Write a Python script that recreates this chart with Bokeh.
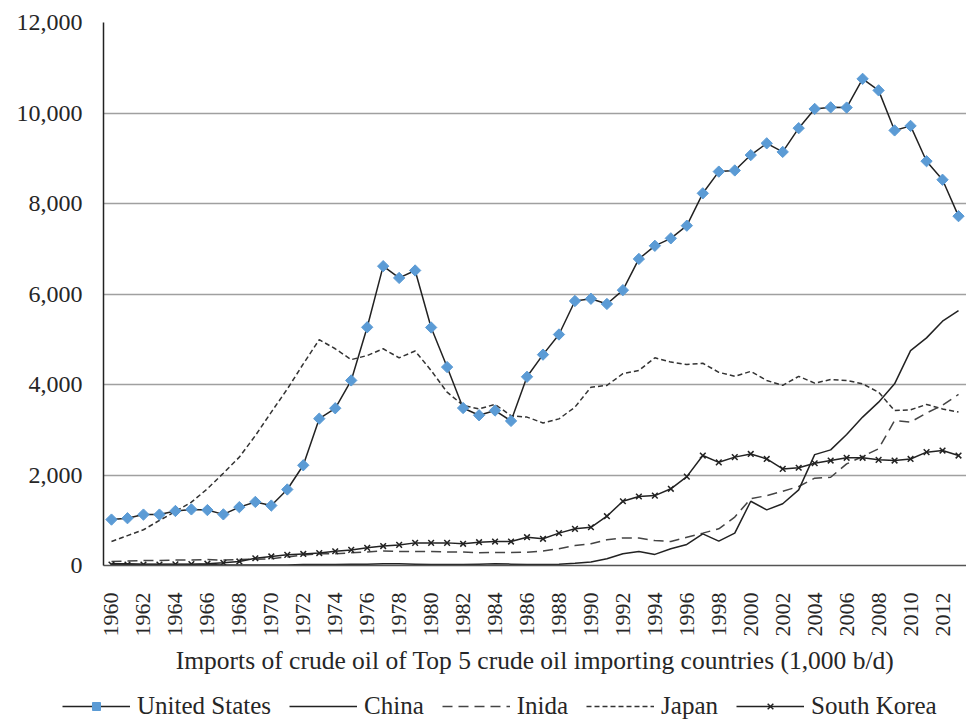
import math
from bokeh.plotting import figure
from bokeh.models import (Legend, LegendItem, NumeralTickFormatter, FixedTicker)
from bokeh.embed import file_html
from bokeh.resources import INLINE

years = list(range(1960, 2014))
year_ticks = list(range(1960, 2013, 2))
y_ticks = [0, 2000, 4000, 6000, 8000, 10000, 12000]

united_states = [1015, 1045, 1125, 1125, 1205, 1240, 1225, 1130, 1290, 1405,
                 1325, 1680, 2215, 3245, 3475, 4090, 5265, 6615, 6355, 6520,
                 5260, 4385, 3480, 3320, 3425, 3195, 4170, 4660, 5105, 5845,
                 5895, 5780, 6085, 6775, 7065, 7230, 7510, 8225, 8705, 8730,
                 9070, 9330, 9140, 9665, 10090, 10125, 10120, 10755, 10500, 9615,
                 9715, 8935, 8525, 7720]

china = [40, 40, 30, 30, 20, 20, 20, 10, 10, 10,
         10, 10, 20, 20, 20, 30, 30, 40, 40, 30,
         20, 20, 20, 30, 40, 30, 20, 20, 30, 50,
         75, 150, 260, 310, 245, 370, 465, 700, 540, 715,
         1420, 1230, 1365, 1670, 2450, 2555, 2895, 3280, 3610, 4015,
         4750, 5030, 5400, 5635]

india = [90, 100, 110, 110, 120, 120, 130, 120, 130, 140,
         150, 190, 230, 260, 260, 280, 300, 320, 310, 310,
         310, 300, 300, 280, 290, 290, 295, 320, 370, 440,
         480, 570, 610, 610, 550, 530, 625, 715, 810, 1070,
         1475, 1545, 1640, 1745, 1930, 1950, 2245, 2410, 2580, 3205,
         3170, 3370, 3540, 3780]

japan = [530, 660, 790, 995, 1195, 1400, 1695, 2040, 2395, 2870,
         3390, 3900, 4455, 4990, 4790, 4550, 4640, 4790, 4590, 4740,
         4310, 3830, 3540, 3460, 3560, 3310, 3280, 3150, 3240, 3500,
         3940, 3980, 4240, 4310, 4590, 4495, 4440, 4470, 4270, 4180,
         4290, 4090, 3980, 4180, 4030, 4110, 4090, 4015, 3830, 3425,
         3440, 3560, 3460, 3390]

south_korea = [20, 20, 20, 20, 25, 30, 40, 60, 90, 160,
               200, 235, 255, 275, 315, 345, 390, 430, 455, 500,
               500, 500, 480, 515, 530, 530, 625, 590, 715, 810,
               845, 1090, 1420, 1525, 1545, 1695, 1965, 2430, 2280, 2395,
               2465, 2355, 2135, 2160, 2260, 2320, 2380, 2380, 2335, 2320,
               2355, 2505, 2540, 2430]

labels = ["United States", "China", "Inida", "Japan", "South Korea"]
x_title = "Imports of crude oil of Top 5 crude oil importing countries (1,000 b/d)"

FONT = "Liberation Serif"
TXT = "#262626"
US_BLUE = "#5B9BD5"


def draw_series(fig):
    r_jp = fig.line(years, japan, line_color="#333333", line_width=1.5, line_dash="5 3")
    r_in = fig.line(years, india, line_color="#444444", line_width=1.5, line_dash="10 6")
    r_cn = fig.line(years, china, line_color="#222222", line_width=1.5)
    r_kr = fig.line(years, south_korea, line_color="#222222", line_width=1.5)
    r_kr_m = fig.scatter(years, south_korea, marker="x", size=8,
                         line_color="#222222", line_width=1.5)
    r_us = fig.line(years, united_states, line_color="#222222", line_width=1.5)
    r_us_m = fig.scatter(years, united_states, marker="square", size=8,
                         angle=math.pi / 4, fill_color=US_BLUE, line_color=US_BLUE)
    return [[r_us, r_us_m], [r_cn], [r_in], [r_jp], [r_kr, r_kr_m]]


# ---------------- main chart ----------------
p = figure(width=966, height=688, output_backend="svg", toolbar_location=None,
           x_range=(1959.5, 2013.5), y_range=(0, 12000),
           min_border_left=103, min_border_right=0, min_border_top=22,
           min_border_bottom=123, outline_line_color=None)

p.xgrid.grid_line_color = None
p.ygrid.grid_line_color = "#a0a0a0"
p.ygrid.grid_line_width = 1.5
p.ygrid.ticker = FixedTicker(ticks=y_ticks)

p.yaxis.ticker = FixedTicker(ticks=y_ticks)
p.yaxis.formatter = NumeralTickFormatter(format="0,0")
p.yaxis.axis_line_color = "#222222"
p.yaxis.axis_line_width = 1.5
p.yaxis.major_tick_line_color = None
p.yaxis.minor_tick_line_color = None
p.yaxis.major_tick_out = 0
p.yaxis.major_tick_in = 0
p.yaxis.minor_tick_out = 0
p.yaxis.major_label_standoff = 21
p.yaxis.major_label_text_font = FONT
p.yaxis.major_label_text_font_size = "24px"
p.yaxis.major_label_text_color = TXT

p.xaxis.ticker = FixedTicker(ticks=year_ticks)
p.xaxis.axis_line_color = "#555555"
p.xaxis.axis_line_width = 1.5
p.xaxis.major_tick_line_color = None
p.xaxis.minor_tick_line_color = None
p.xaxis.major_tick_out = 0
p.xaxis.major_tick_in = 0
p.xaxis.minor_tick_out = 0
p.xaxis.major_label_orientation = math.pi / 2
p.xaxis.major_label_standoff = 27
p.xaxis.major_label_text_font = FONT
p.xaxis.major_label_text_font_size = "22px"
p.xaxis.major_label_text_color = TXT
p.xaxis.axis_label = x_title
p.xaxis.axis_label_text_font = FONT
p.xaxis.axis_label_text_font_style = "normal"
p.xaxis.axis_label_text_font_size = "25.5px"
p.xaxis.axis_label_text_color = TXT
p.xaxis.axis_label_standoff = 6

draw_series(p)

# ---------------- legend strip (separate root, no frame alignment) ----------------
lg = figure(width=966, height=32, output_backend="svg", toolbar_location=None,
            x_range=(1959.5, 2013.5), y_range=(-20000, -19000),
            min_border_left=0, min_border_right=0, min_border_top=0,
            min_border_bottom=0, outline_line_color=None)
lg.xaxis.visible = False
lg.yaxis.visible = False
lg.grid.visible = False
groups = draw_series(lg)

legend = Legend(items=[LegendItem(label=lab, renderers=rs) for lab, rs in zip(labels, groups)],
                orientation="horizontal", location=(62, 0))
legend.label_text_font = FONT
legend.label_text_font_size = "25px"
legend.label_text_color = TXT
legend.glyph_width = 68
legend.glyph_height = 20
legend.label_standoff = 7
legend.spacing = 18
legend.padding = 0
legend.margin = 0
legend.border_line_color = None
legend.background_fill_alpha = 0
lg.add_layout(legend, "center")

open("out.html", "w").write(file_html([p, lg], INLINE))
